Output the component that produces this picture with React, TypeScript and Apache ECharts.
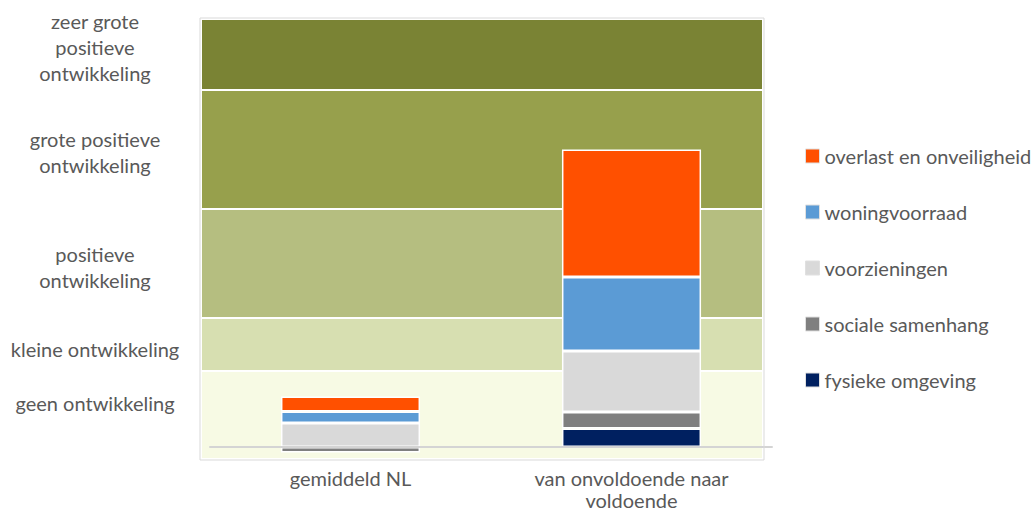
import React, { useEffect, useRef } from "react";
import * as echarts from "echarts";

const categories = ["gemiddeld NL", "van onvoldoende naar\nvoldoende"];
const fysiekeOmgeving = [0, 1.85];
const socialeSamenhang = [-0.55, 1.65];
const voorzieningen = [2.4, 6.1];
const woningvoorraad = [1.15, 7.4];
const overlastEnOnveiligheid = [1.5, 12.75];

const seriesNames = [
  "fysieke omgeving",
  "sociale samenhang",
  "voorzieningen",
  "woningvoorraad",
  "overlast en onveiligheid",
];
const seriesValues = [
  fysiekeOmgeving,
  socialeSamenhang,
  voorzieningen,
  woningvoorraad,
  overlastEnOnveiligheid,
];
const seriesColors = ["#002060", "#7F7F7F", "#D9D9D9", "#5B9BD5", "#FF5000"];

const bandLabels = [
  "geen ontwikkeling",
  "kleine ontwikkeling",
  "positieve\nontwikkeling",
  "grote positieve\nontwikkeling",
  "zeer grote\npositieve\nontwikkeling",
];
const bandBounds = [-1.2, 7.6, 12.9, 23.8, 35.7, 42.8];
const bandColors = ["#F7FAE4", "#D7DFB1", "#B5BE80", "#97A04C", "#7A8334"];
const bandLabelOffsets = [-12, 4, 3, 2.5, -7.5];

const FONT = "Lato, 'Open Sans', sans-serif";

export default function App() {
  const ref = useRef<HTMLDivElement>(null);
  useEffect(() => {
    if (!ref.current) return;
    const chart = echarts.init(ref.current, null, { renderer: "svg" });
    const markData = bandLabels.map((name, i) => [
      {
        name,
        yAxis: bandBounds[i],
        itemStyle: { color: bandColors[i] },
        label: { offset: [0, bandLabelOffsets[i]] },
      },
      { yAxis: bandBounds[i + 1] },
    ]);
    chart.setOption({
      animation: false,
      textStyle: { fontFamily: FONT },
      grid: [
        { left: 201, top: 19, width: 562, height: 440, outerBoundsMode: "none" },
        { left: 210, top: 18, width: 562, height: 442, outerBoundsMode: "none" },
      ],
      xAxis: [
        { type: "category", gridIndex: 0, data: ["bg"], show: false },
        {
          type: "category",
          gridIndex: 1,
          data: categories,
          z: 10,
          axisLine: { onZero: true, lineStyle: { color: "#D4D4D4", width: 2 } },
          axisTick: { show: false },
          axisLabel: {
            color: "#595959",
            fontSize: 20,
            lineHeight: 22,
            margin: 7,
            fontFamily: FONT,
          },
        },
      ],
      yAxis: [
        { type: "value", gridIndex: 0, min: -1.2, max: 42.8, show: false },
        { type: "value", gridIndex: 1, min: -1.3, max: 42.9, show: false },
      ],
      legend: {
        orient: "vertical",
        left: 800,
        top: 141,
        itemWidth: 14,
        itemHeight: 14,
        itemGap: 36,
        icon: "rect",
        data: [...seriesNames].reverse(),
        itemStyle: { borderColor: "#E0E0E0", borderWidth: 1 },
        textStyle: {
          color: "#595959",
          fontSize: 20,
          lineHeight: 20,
          fontFamily: FONT,
        },
      },
      graphic: [
        {
          type: "rect",
          shape: { x: 200, y: 18, width: 564, height: 442 },
          style: { fill: "none", stroke: "#D9D9D9", lineWidth: 1 },
          z: 100,
          silent: true,
        },
      ],
      series: [
        {
          type: "line",
          xAxisIndex: 0,
          yAxisIndex: 0,
          data: [],
          silent: true,
          markArea: {
            silent: true,
            itemStyle: { borderColor: "#FFFFFF", borderWidth: 2 },
            label: {
              show: true,
              position: "left",
              distance: 105,
              align: "center",
              color: "#595959",
              fontSize: 20,
              lineHeight: 26,
              fontFamily: FONT,
            },
            data: markData,
          },
        },
        ...seriesNames.map((name, i) => ({
          name,
          type: "bar",
          xAxisIndex: 1,
          yAxisIndex: 1,
          stack: "total",
          barWidth: "49.5%",
          data: seriesValues[i],
          itemStyle: {
            color: seriesColors[i],
            borderColor: "#FFFFFF",
            borderWidth: 1.5,
          },
        })),
      ],
    });
    return () => chart.dispose();
  }, []);
  return (
    <div
      ref={ref}
      style={{ position: "absolute", left: 0, top: 0, width: 1036, height: 511 }}
    />
  );
}
